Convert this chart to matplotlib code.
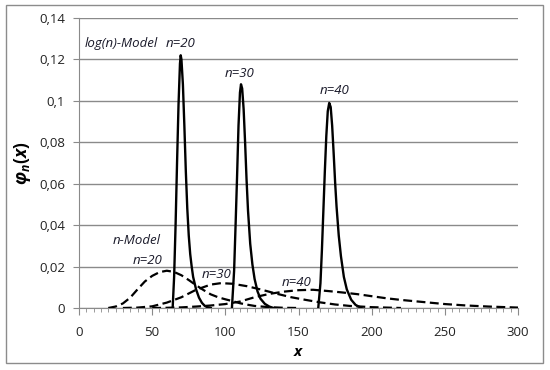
import matplotlib
matplotlib.use("Agg")
import matplotlib.pyplot as plt
from matplotlib.patches import Rectangle
from matplotlib.ticker import MultipleLocator

plt.rcParams['font.family'] = ['Open Sans', 'DejaVu Sans']
plt.rcParams['mathtext.fontset'] = 'custom'
plt.rcParams['mathtext.it'] = 'Open Sans:italic:bold'
plt.rcParams['mathtext.rm'] = 'Open Sans:bold'

# log(n)-Model (solid)
log20_x = [64, 65, 66, 67, 68, 69, 69.5, 70, 71, 72, 73, 74, 75, 76, 77, 78, 80, 82, 84, 86, 88, 90]
log20_y = [0, 0.015, 0.04, 0.07, 0.098, 0.118, 0.122, 0.12, 0.108, 0.088, 0.066, 0.048, 0.035,
           0.026, 0.02, 0.015, 0.009, 0.005, 0.0025, 0.001, 0.0003, 0]
log30_x = [104.5, 106, 107, 108, 109, 110, 110.7, 111.5, 112.5, 113.5, 114.5, 115.5, 117, 118.5,
           120, 122, 124, 127, 130, 133]
log30_y = [0, 0.018, 0.04, 0.063, 0.088, 0.104, 0.108, 0.106, 0.096, 0.08, 0.062, 0.047, 0.031,
           0.021, 0.014, 0.008, 0.0045, 0.002, 0.0007, 0]
log40_x = [163.5, 165, 166, 167, 168, 169, 170, 171, 172, 173, 174, 175, 176, 177.5, 179, 181,
           183, 186, 189, 193]
log40_y = [0, 0.012, 0.028, 0.047, 0.066, 0.083, 0.095, 0.099, 0.097, 0.088, 0.075, 0.061, 0.049,
           0.035, 0.025, 0.015, 0.009, 0.004, 0.0015, 0]

# n-Model (dashed)
n20_x = [20, 25, 30, 35, 40, 45, 50, 55, 60, 65, 70, 75, 80, 85, 90, 95, 100, 105, 110, 115, 120,
         130, 140, 150]
n20_y = [0, 0.0007, 0.0022, 0.005, 0.009, 0.0128, 0.0155, 0.0173, 0.018, 0.0174, 0.0158, 0.0135,
         0.011, 0.0087, 0.0066, 0.0052, 0.0042, 0.0033, 0.0023, 0.0016, 0.001, 0.0004, 0.0001, 0]
n30_x = [30, 40, 50, 60, 70, 80, 90, 97, 105, 115, 125, 135, 145, 155, 165, 175, 185, 200, 220]
n30_y = [0, 0.0002, 0.0008, 0.0026, 0.0052, 0.0088, 0.0113, 0.012, 0.0117, 0.0105, 0.0088,
         0.0069, 0.0052, 0.0039, 0.0027, 0.0017, 0.001, 0.0004, 0]
n40_x = [50, 60, 70, 80, 90, 100, 110, 120, 130, 140, 150, 160, 170, 180, 190, 200, 210, 220,
         235, 250, 265, 280, 300]
n40_y = [0, 0.0001, 0.0003, 0.0007, 0.0012, 0.0019, 0.0031, 0.0052, 0.0068, 0.0079, 0.0086,
         0.0088, 0.0082, 0.0075, 0.0067, 0.0057, 0.0047, 0.0039, 0.0029, 0.0019, 0.0012, 0.0007,
         0.0002]

y_ticks = [0, 0.02, 0.04, 0.06, 0.08, 0.10, 0.12, 0.14]
y_tick_labels = ["0", "0,02", "0,04", "0,06", "0,08", "0,1", "0,12", "0,14"]
x_ticks = [0, 50, 100, 150, 200, 250, 300]

fig = plt.figure(figsize=(5.5, 3.7), dpi=100)
fig.patches.append(Rectangle((6/550, 1-363/370), (543-6)/550, (363-5)/370,
                             transform=fig.transFigure, fill=False, edgecolor='#8c8c8c', lw=1.0))
ax = fig.add_axes([79/550, 1-308/370, (518-79)/550, (308-18)/370])

for xs, ys in [(log20_x, log20_y), (log30_x, log30_y), (log40_x, log40_y)]:
    ax.plot(xs, ys, color='black', lw=1.7, solid_joinstyle='round', zorder=3)
for xs, ys in [(n20_x, n20_y), (n30_x, n30_y), (n40_x, n40_y)]:
    ax.plot(xs, ys, color='black', lw=1.6, linestyle=(0, (4, 2)), zorder=3)

ax.set_xlim(0, 300)
ax.set_ylim(0, 0.14)
ax.set_yticks(y_ticks)
ax.set_yticklabels(y_tick_labels)
ax.set_xticks(x_ticks)
ax.xaxis.set_minor_locator(MultipleLocator(5))
ax.yaxis.grid(True, color='#8a8a8a', lw=1.0)
ax.set_axisbelow(True)
for s in ['top', 'right']:
    ax.spines[s].set_visible(False)
ax.spines['left'].set_color('#8a8a8a')
ax.spines['bottom'].set_color('#8a8a8a')
ax.tick_params(axis='y', length=4, color='#8a8a8a', labelsize=9.5, pad=6, labelcolor='#222222')
ax.tick_params(axis='x', which='major', length=5, color='#8a8a8a', labelsize=9.5, pad=8,
               labelcolor='#222222')
ax.tick_params(axis='x', which='minor', length=3, color='#8a8a8a')

ax.set_xlabel(r'$x$', fontsize=11, labelpad=4)
ax.set_ylabel(r'$\varphi_n(x)$', fontsize=12.5, labelpad=0)
ax.yaxis.set_label_coords(-0.105, 0.5)

tkw = dict(fontsize=9.5, style='italic', ha='center', va='center', color='#1a1a2a')
ax.text(28.7, 0.1275, 'log(n)-Model', **tkw)
ax.text(69.7, 0.1275, 'n=20', **tkw)
ax.text(110, 0.1130, 'n=30', **tkw)
ax.text(174.3, 0.1050, 'n=40', **tkw)
ax.text(39.6, 0.0328, 'n-Model', **tkw)
ax.text(46.8, 0.0227, 'n=20', **tkw)
ax.text(93.8, 0.0160, 'n=30', **tkw)
ax.text(149, 0.0122, 'n=40', **tkw)

fig.savefig('out.png', dpi=100)
